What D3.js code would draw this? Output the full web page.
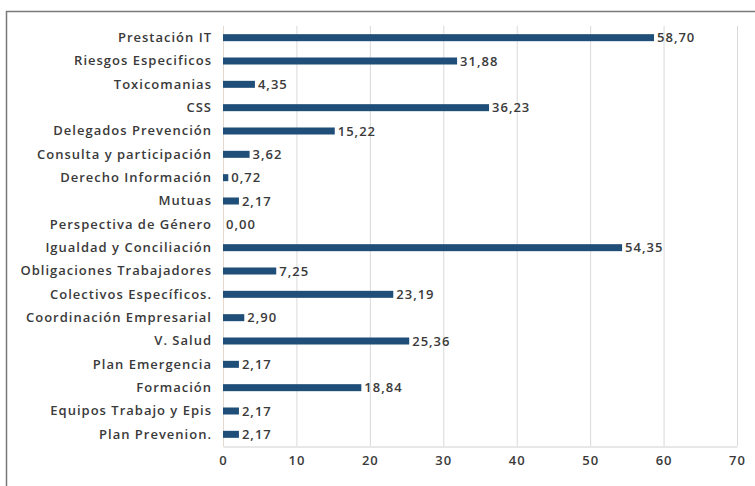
<!DOCTYPE html>
<html>
<head>
<meta charset="utf-8">
<script src="https://cdn.jsdelivr.net/npm/d3@7"></script>
<style>
  html, body { margin: 0; padding: 0; background: #fff; }
  svg { display: block; }
  text { font-family: "Open Sans", "DejaVu Sans", sans-serif; fill: #3a3a3a; }
</style>
</head>
<body>
<svg id="chart" width="755" height="486"></svg>
<script>
// Categories, top to bottom
const categories = [
  "Prestación IT",
  "Riesgos Especificos",
  "Toxicomanias",
  "CSS",
  "Delegados Prevención",
  "Consulta y participación",
  "Derecho Información",
  "Mutuas",
  "Perspectiva de Género",
  "Igualdad y Conciliación",
  "Obligaciones Trabajadores",
  "Colectivos Específicos.",
  "Coordinación Empresarial",
  "V. Salud",
  "Plan Emergencia",
  "Formación",
  "Equipos Trabajo y Epis",
  "Plan Prevenion."
];
// Percentages per category
const values = [58.70, 31.88, 4.35, 36.23, 15.22, 3.62, 0.72, 2.17, 0.00, 54.35,
                7.25, 23.19, 2.90, 25.36, 2.17, 18.84, 2.17, 2.17];
const xTicks = [0, 10, 20, 30, 40, 50, 60, 70];

const svg = d3.select("#chart");
const plot = { left: 223, right: 737, top: 26, bottom: 446 };
const labelFont = "\"Open Sans\", sans-serif";

// Outer frame (top and left edges visible)
svg.append("path")
  .attr("d", "M6.5,486 V11.5 H755")
  .attr("fill", "none")
  .attr("stroke", "#7a7a7a")
  .attr("stroke-width", 1.5);

const x = d3.scaleLinear().domain([0, 70]).range([plot.left, plot.right]);
const y = d3.scaleBand().domain(categories).range([plot.top, plot.bottom]).paddingInner(0.7).paddingOuter(0.35);

// Vertical gridlines
svg.append("g")
  .selectAll("line")
  .data(xTicks)
  .join("line")
  .attr("x1", d => x(d) + 0.5).attr("x2", d => x(d) + 0.5)
  .attr("y1", plot.top).attr("y2", plot.bottom)
  .attr("stroke", "#d9d9d9").attr("stroke-width", 1);

// Bottom axis
const xAxis = svg.append("g")
  .attr("transform", `translate(0,${plot.bottom + 0.5})`)
  .call(d3.axisBottom(x).tickValues(xTicks).tickSize(0).tickPadding(9).tickFormat(d3.format("d")));
xAxis.select(".domain").attr("stroke", "#d0d0d0");
xAxis.selectAll("text")
  .style("font-family", labelFont)
  .style("font-size", "13px").style("font-weight", 600)
  .style("letter-spacing", "1px").attr("fill", "#3a3a3a");

// Category labels
const yAxis = svg.append("g")
  .attr("transform", `translate(${plot.left},0)`)
  .call(d3.axisLeft(y).tickSize(0).tickPadding(11));
yAxis.select(".domain").attr("stroke", "#e6d8cc");
yAxis.selectAll("text")
  .style("font-family", labelFont)
  .style("font-size", "13px").style("font-weight", 600)
  .style("letter-spacing", "1px")
  .attr("fill", "#3a3a3a");

// Bars
svg.append("g")
  .selectAll("rect")
  .data(values)
  .join("rect")
  .attr("x", x(0))
  .attr("y", (d, i) => y(categories[i]))
  .attr("width", d => x(d) - x(0))
  .attr("height", y.bandwidth())
  .attr("fill", "#1f4e79");

// Value labels
const fmt = v => v.toFixed(2).replace(".", ",");
svg.append("g")
  .selectAll("text")
  .data(values)
  .join("text")
  .attr("x", d => x(d) + 3)
  .attr("y", (d, i) => y(categories[i]) + y.bandwidth() / 2)
  .attr("dy", "0.35em")
  .style("font-size", "13px").style("font-weight", 600)
  .style("letter-spacing", "1px")
  .text(fmt);
</script>
</body>
</html>
